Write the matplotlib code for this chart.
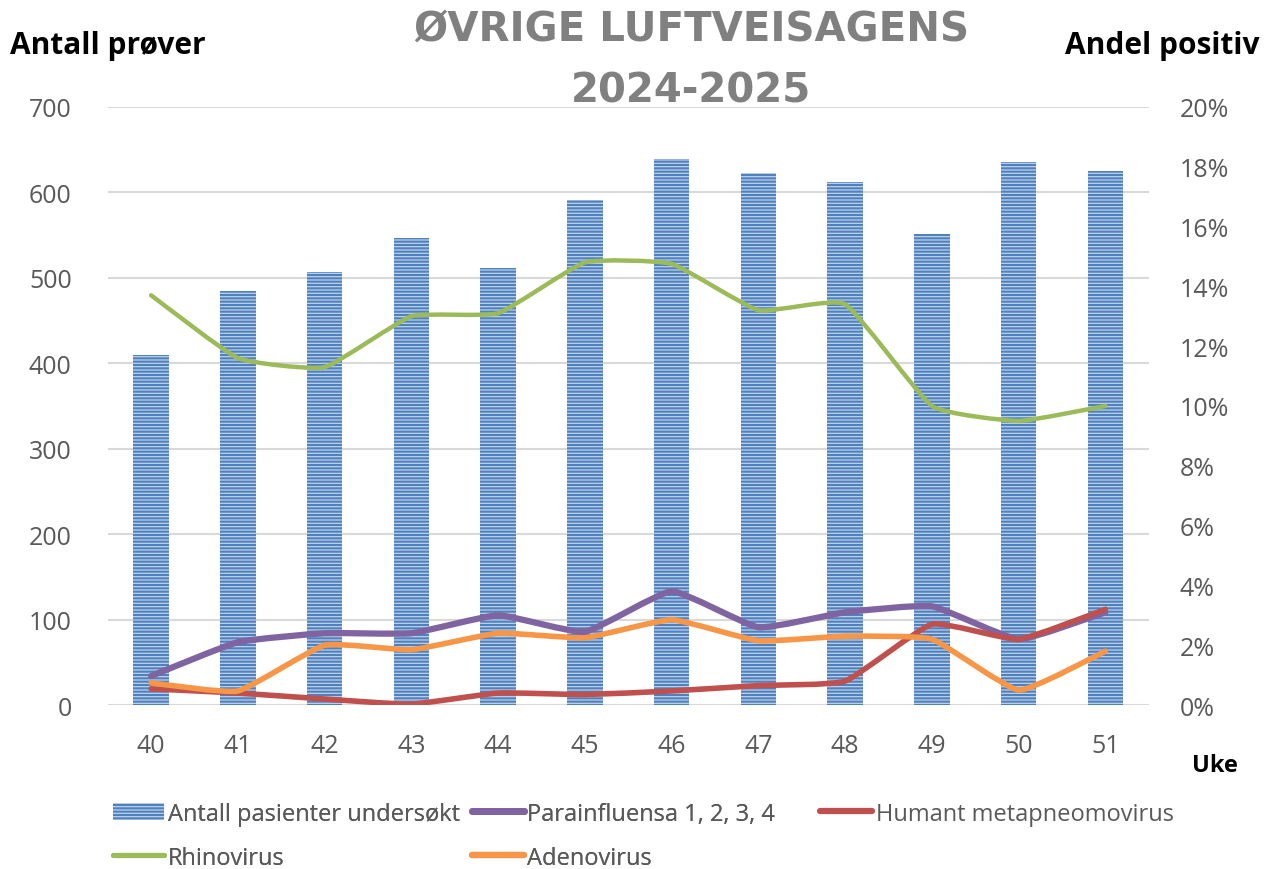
import numpy as np
import matplotlib
matplotlib.use('Agg')
import matplotlib.pyplot as plt
from matplotlib.path import Path
from matplotlib.patches import PathPatch, Patch
from matplotlib.lines import Line2D
from matplotlib.ticker import FuncFormatter

plt.rcParams['font.family'] = ['Open Sans', 'DejaVu Sans']
plt.rcParams['hatch.linewidth'] = 1.5

# Data
weeks = ['40', '41', '42', '43', '44', '45', '46', '47', '48', '49', '50', '51']
antall = [410, 485, 507, 546, 512, 591, 639, 623, 612, 551, 635, 625]
parainfluensa = [0.97, 2.1, 2.4, 2.4, 3.0, 2.45, 3.8, 2.6, 3.1, 3.3, 2.2, 3.1]
metapneumo = [0.54, 0.4, 0.2, 0.03, 0.4, 0.35, 0.47, 0.65, 0.8, 2.7, 2.2, 3.2]
rhinovirus = [13.7, 11.6, 11.3, 13.0, 13.1, 14.8, 14.75, 13.2, 13.4, 10.0, 9.5, 10.0]
adenovirus = [0.74, 0.47, 2.0, 1.85, 2.4, 2.25, 2.85, 2.15, 2.3, 2.2, 0.5, 1.8]

grey = '#595959'
bar_face = '#bcd1ec'
bar_hatch = '#4f81bd'


def smooth_path(x, y, k=14.0):
    # gently rounded bezier through the points, like Excel's smoothed lines
    x = np.asarray(x, float)
    y = np.asarray(y, float)
    pts = np.column_stack([x, y])
    n = len(pts)
    verts = [pts[0]]
    codes = [Path.MOVETO]
    for i in range(n - 1):
        p0 = pts[i - 1] if i > 0 else pts[i]
        p1 = pts[i]
        p2 = pts[i + 1]
        p3 = pts[i + 2] if i + 2 < n else pts[i + 1]
        c1 = p1 + (p2 - p0) / k
        c2 = p2 - (p3 - p1) / k
        verts += [c1, c2, p2]
        codes += [Path.CURVE4] * 3
    return Path(verts, codes)


fig = plt.figure(figsize=(12.68, 8.70), dpi=100)
ax = fig.add_axes([0.085, 0.1885, 0.821, 0.6875])
ax2 = ax.twinx()

x = np.arange(len(weeks))
ax.bar(x, antall, width=0.41, color=bar_face, edgecolor=bar_hatch,
       linewidth=0, hatch='-----', zorder=2)

ax.set_ylim(0, 700)
ax.set_xlim(-0.5, len(weeks) - 0.5)
ax.set_yticks(range(0, 701, 100))
ax.set_xticks(x)
ax.set_xticklabels(weeks)
ax.grid(axis='y', color='#d9d9d9', linewidth=1.5, zorder=0)
ax.set_axisbelow(True)

ax2.set_ylim(0, 20)
ax2.set_yticks(range(0, 21, 2))
ax2.yaxis.set_major_formatter(FuncFormatter(lambda v, p: f'{int(v)}%'))

for a in (ax, ax2):
    for s in ['top', 'left', 'right', 'bottom']:
        a.spines[s].set_visible(False)
    a.tick_params(length=0, labelsize=18, labelcolor=grey)
ax.tick_params(axis='x', pad=20)
ax.tick_params(axis='y', pad=26)
ax2.tick_params(axis='y', pad=22)

series = [
    (parainfluensa, '#8064a2', 4.5, 'Parainfluensa 1, 2, 3, 4'),
    (metapneumo, '#c0504d', 4.0, 'Humant metapneomovirus'),
    (rhinovirus, '#9bbb59', 3.2, 'Rhinovirus'),
    (adenovirus, '#f79646', 4.0, 'Adenovirus'),
]
handles = {}
for vals, col, lw, name in series:
    patch = PathPatch(smooth_path(x, vals), facecolor='none', edgecolor=col,
                      linewidth=lw, capstyle='round', joinstyle='round', zorder=3)
    ax2.add_patch(patch)
    handles[name] = Line2D([], [], color=col, linewidth=lw + 0.5,
                           solid_capstyle='round')

bar_handle = Patch(facecolor=bar_face, edgecolor=bar_hatch, linewidth=0,
                   hatch='-----')
leg_handles = [bar_handle, handles['Rhinovirus'],
               handles['Parainfluensa 1, 2, 3, 4'], handles['Adenovirus']]
leg_labels = ['Antall pasienter undersøkt', 'Rhinovirus',
              'Parainfluensa 1, 2, 3, 4', 'Adenovirus']
leg_kw = dict(frameon=False, loc='upper left', fontsize=17, handlelength=2.2,
              handletextpad=0.15, columnspacing=0.5, labelspacing=0.85)
leg = fig.legend(leg_handles, leg_labels, ncol=2,
                 bbox_to_anchor=(0.072, 0.102), **leg_kw)
leg2 = fig.legend([handles['Humant metapneomovirus']],
                  ['Humant metapneomovirus'], ncol=1,
                  bbox_to_anchor=(0.630, 0.102), **leg_kw)
fig.add_artist(leg)
for lg in (leg, leg2):
    for t in lg.get_texts():
        t.set_color(grey)

fig.text(0.545, 0.9655, 'ØVRIGE LUFTVEISAGENS', ha='center', va='center',
         fontsize=29, fontweight='bold', color='#808080',
         family=['DejaVu Sans'])
fig.text(0.545, 0.8945, '2024-2025', ha='center', va='center',
         fontsize=29, fontweight='bold', color='#808080',
         family=['DejaVu Sans'])
fig.text(0.008, 0.947, 'Antall prøver', ha='left', va='center',
         fontsize=21.5, fontweight='bold', color='black')
fig.text(0.993, 0.947, 'Andel positiv', ha='right', va='center',
         fontsize=21.5, fontweight='bold', color='black')
fig.text(0.976, 0.119, 'Uke', ha='right', va='center',
         fontsize=17, fontweight='bold', color='black')

fig.savefig('out.png', dpi=100)
